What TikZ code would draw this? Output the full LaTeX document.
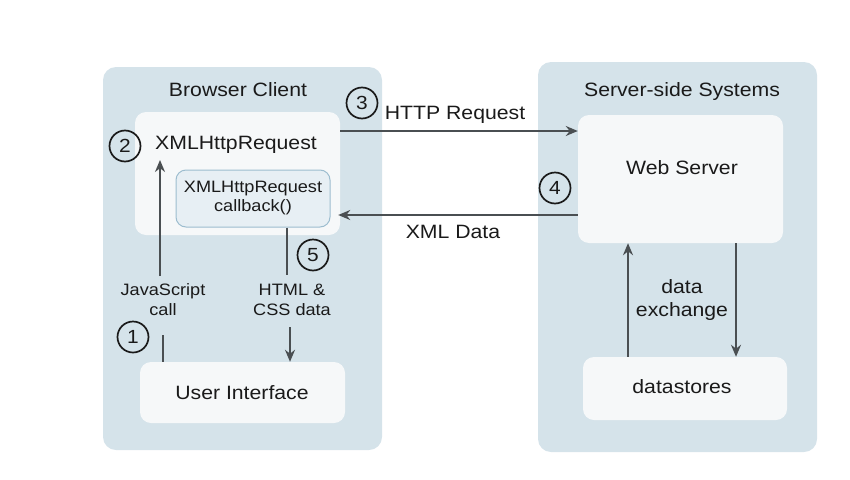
\documentclass[tikz,border=0pt]{standalone}
\usepackage{fontspec}
\setmainfont[FakeStretch=1.1]{Liberation Sans}
\usetikzlibrary{arrows.meta}
\definecolor{panelc}{HTML}{D5E3EA}
\definecolor{boxc}{HTML}{F6F8F9}
\definecolor{cbfill}{HTML}{E7EFF4}
\definecolor{cbline}{HTML}{9DBDCF}
\definecolor{linec}{HTML}{4A4F52}
\definecolor{txtc}{HTML}{1A1A1A}
\tikzset{
  panel/.style={rectangle, rounded corners=13pt, fill=panelc, inner sep=0pt},
  wbox/.style={rectangle, rounded corners=11pt, fill=boxc, inner sep=0pt},
  cbbox/.style={rectangle, rounded corners=10pt, fill=cbfill, draw=cbline, line width=1pt, inner sep=0pt, align=center, font=\fontsize{16.5}{19}\selectfont, text=txtc},
  big/.style={font=\fontsize{19.3}{23}\selectfont, text=txtc, inner sep=0pt, align=center},
  small/.style={font=\fontsize{16.5}{20}\selectfont, text=txtc, align=center, inner sep=0pt},
  num/.style={circle, draw=txtc, line width=1.7pt, minimum size=31pt, inner sep=0pt, font=\fontsize{19}{20}\selectfont, text=txtc},
  arr/.style={draw=linec, line width=2.4pt, -{Stealth[length=12pt, width=10pt]}},
  ln/.style={draw=linec, line width=2.4pt},
}
\begin{document}
\begin{tikzpicture}[x=1pt, y=-1pt]
\useasboundingbox (0,0) rectangle (850,479);
% panels
\node[panel, minimum width=279pt, minimum height=383pt] (lp) at (242.5,258.5) {};
\node[panel, minimum width=279pt, minimum height=390pt] (rp) at (677.5,257) {};
% boxes
\node[wbox, minimum width=205pt, minimum height=123pt] (xhr) at (237.5,173.5) {};
\node[cbbox, minimum width=154pt, minimum height=57pt] (cb) at (253,198.5) {XMLHttpRequest\\callback()};
\node[wbox, minimum width=205pt, minimum height=61pt] (ui) at (242.5,392.5) {};
\node[wbox, minimum width=205pt, minimum height=128pt] (ws) at (680.5,179) {};
\node[wbox, minimum width=204pt, minimum height=63pt] (ds) at (685,388.5) {};
% texts
\node[big] (bc) at (238,90) {Browser Client};
\node[big] (xhrt) at (236,145) {XMLHttpRequest};
\node[big] (ssys) at (682,92) {Server-side Systems};
\node[big] (wst) at (682,168) {Web Server};
\node[big] (uit) at (242,393) {User Interface};
\node[big] (dst) at (682,387) {datastores};
\node[big] (httpl) at (455,115) {HTTP Request};
\node[big] (xmll) at (453,232) {XML Data};
\node[small] (jsl) at (163,300) {JavaScript\\call};
\node[small] (cssl) at (292,300) {HTML \&\\CSS data};
\node[big] (dxl) at (682,300) {data\\exchange};
% numbers
\node[num] (n1) at (133,337) {1};
\node[num] (n2) at (125,146) {2};
\node[num] (n3) at (362,103) {3};
\node[num] (n4) at (555,188) {4};
\node[num] (n5) at (313,255) {5};
% coordinates
\coordinate (js1) at (160,276);
\coordinate (js2) at (160,160);
\coordinate (js3) at (163,335);
\coordinate (h5a) at (287,275);
\coordinate (h5b) at (290,327);
\coordinate (hy) at (0,131);
\coordinate (xy) at (0,215);
\coordinate (dxa) at (628,0);
\coordinate (dxb) at (736,0);
% connectors
\draw[arr] (js1) -- (js2);
\draw[ln] (js3) -- (js3 |- ui.north);
\draw[ln] (h5a |- cb.south) -- (h5a);
\draw[arr] (h5b) -- (h5b |- ui.north);
\draw[arr] (xhr.east |- hy) -- (ws.west |- hy);
\draw[arr] (ws.west |- xy) -- ([xshift=-2pt]xhr.east |- xy);
\draw[arr] (dxa |- ds.north) -- (dxa |- ws.south);
\draw[arr] (dxb |- ws.south) -- (dxb |- ds.north);
\end{tikzpicture}
\end{document}
